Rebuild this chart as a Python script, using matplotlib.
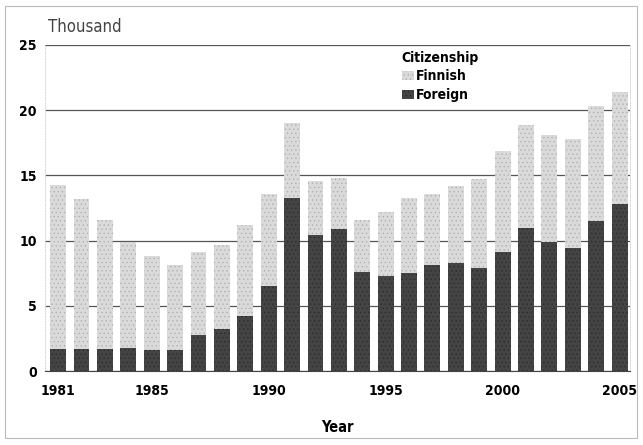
import matplotlib
matplotlib.use('Agg')
import matplotlib.pyplot as plt
from matplotlib.patches import Rectangle
import numpy as np

years = list(range(1981, 2006))
total = [14.3, 13.2, 11.6, 9.9, 8.8, 8.1, 9.1, 9.7, 11.2, 13.6, 19.0, 14.6, 14.8,
         11.6, 12.2, 13.3, 13.6, 14.2, 14.7, 16.9, 18.9, 18.1, 17.8, 20.3, 21.4]
foreign = [1.7, 1.7, 1.7, 1.8, 1.6, 1.6, 2.8, 3.2, 4.2, 6.5, 13.3, 10.4, 10.9,
           7.6, 7.3, 7.5, 8.1, 8.3, 7.9, 9.1, 11.0, 9.9, 9.4, 11.5, 12.8]
finnish = [t - f for t, f in zip(total, foreign)]
tick_years = [1981, 1985, 1990, 1995, 2000, 2005]

plt.rcParams['font.family'] = ['DejaVu Sans']
plt.rcParams['font.stretch'] = 'condensed'
plt.rcParams['hatch.linewidth'] = 0.4

fig = plt.figure(figsize=(6.43, 4.45), dpi=100)
fig.patches.append(Rectangle((0.008, 0.015), 0.982, 0.972, transform=fig.transFigure,
                             fill=False, edgecolor='#bbbbbb', lw=0.8))
ax = fig.add_axes([0.07, 0.166, 0.91, 0.733])

x = np.array(years)
plt.rcParams['hatch.color'] = '#8a8a8a'
ax.bar(x, foreign, width=0.68, color='#444444', hatch='....', edgecolor='#2a2a2a',
       linewidth=0, label='Foreign', zorder=3)
ax.bar(x, finnish, bottom=foreign, width=0.68, color='#dadada', hatch='....',
       edgecolor='#acacac', linewidth=0, label='Finnish', zorder=3)

ax.set_ylim(0, 25)
ax.set_xlim(1980.44, 2005.45)
ax.set_yticks([0, 5, 10, 15, 20, 25])
ax.set_xticks(tick_years)
ax.yaxis.grid(True, color='#555555', lw=0.9)
ax.set_axisbelow(True)
ax.spines['top'].set_visible(False)
for s in ['left', 'right']:
    ax.spines[s].set_color('#d5d5d5')
    ax.spines[s].set_linestyle(':')
    ax.spines[s].set_linewidth(0.7)
ax.spines['bottom'].set_color('#444444')
ax.tick_params(length=0, labelsize=10)
ax.tick_params(axis='x', pad=9)
ax.tick_params(axis='y', pad=6)
for lab in ax.get_xticklabels() + ax.get_yticklabels():
    lab.set_fontweight('bold')
ax.set_xlabel('Year', fontsize=10.5, fontweight='bold', labelpad=16)
fig.text(0.075, 0.927, 'Thousand', fontsize=12, color='#444444')

h, l = ax.get_legend_handles_labels()
leg = ax.legend(h[::-1], l[::-1], title='Citizenship', loc='upper left',
                bbox_to_anchor=(0.6, 1.0), frameon=False,
                prop={'size': 10, 'weight': 'semibold', 'stretch': 'condensed'},
                handlelength=0.9, handleheight=0.7, handletextpad=0.15,
                labelspacing=0.35, borderaxespad=0)
leg.get_title().set_fontsize(10)
leg.get_title().set_fontweight('semibold')
leg._legend_box.align = 'left'

fig.savefig('out.png', dpi=100)
